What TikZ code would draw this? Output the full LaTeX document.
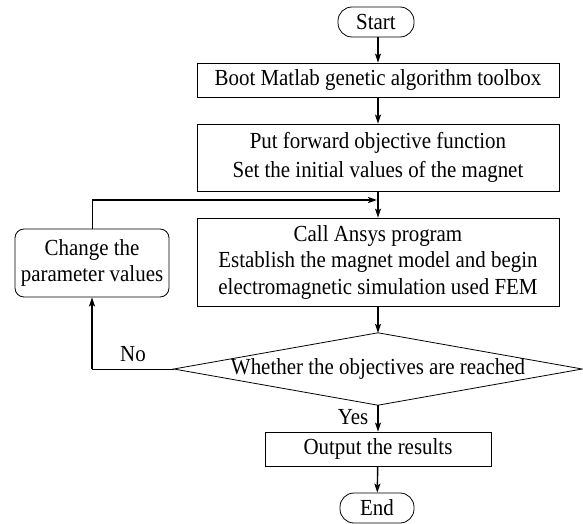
\documentclass[tikz,border=0pt]{standalone}
\usepackage{fontspec}
\setmainfont{Liberation Serif}[FakeStretch=0.91]
\usetikzlibrary{arrows.meta}
\begin{document}
\begin{tikzpicture}[x=1pt,y=-1pt,
  every node/.style={font=\fontsize{23}{26.5}\selectfont, inner sep=0pt, align=center},
  boxx/.style={draw, line width=0.8pt, rectangle},
  term/.style={draw, line width=0.8pt, rectangle, rounded corners=14pt},
  chg/.style={draw, line width=0.8pt, rectangle, rounded corners=9pt},
  arr/.style={line width=1.4pt, -{Stealth[length=9pt,width=6pt,inset=2pt]}},
  thin/.style={line width=0.8pt},
  thickline/.style={line width=2pt}
]
\useasboundingbox (0,0) rectangle (583,524);
\node[term, minimum width=76pt, minimum height=30pt] (start) at (376,22) {Start};
\node[boxx, minimum width=362pt, minimum height=34pt] (b1) at (378,80) {Boot Matlab genetic algorithm toolbox};
\node[boxx, minimum width=362pt, minimum height=67pt] (b2) at (378,157.5) {Put forward objective function\\[2.5pt] Set the initial values of the magnet};
\node[boxx, minimum width=362pt, minimum height=88pt] (b3) at (378,262) {Call Ansys program\\ Establish the magnet model and begin\\ electromagnetic simulation used FEM};
\node[minimum width=408pt, minimum height=72pt] (dia) at (378,369) {Whether the objectives are reached};
\draw[thin] (dia.west) -- (dia.north) -- (dia.east) -- (dia.south) -- cycle;
\node[chg, minimum width=154pt, minimum height=68pt] (chg) at (92,263) {Change the\\ parameter values};
\node[boxx, minimum width=226pt, minimum height=34pt] (out) at (378,449) {Output the results};
\node[term, minimum width=74pt, minimum height=30pt] (end) at (377,508) {End};
\node (no) at (133,354) {No};
\node (yes) at (353,417) {Yes};
\coordinate (j) at (378,200);
\coordinate (jl) at (92,200);
\coordinate (dl) at (92,369);

\draw[arr] (start.south -| b1.north) -- (b1.north);
\draw[arr] (b1) -- (b2);
\draw[line width=1.4pt] (b2.south) -- (j);
\draw[arr] (j) -- (b3.north);
\draw[arr] (b3) -- (dia.north);
\draw[arr] (dia.south) -- (out.north);
\draw[arr] (out) -- (end);
\draw[thin] (dia.west) -- (dl);
\draw[thickline, -{Stealth[length=9pt,width=6pt,inset=2pt]}] (dl) -- (chg.south);
\draw[thin] (chg.north) -- (jl);
\draw[thickline, -{Stealth[length=9pt,width=6pt,inset=2pt]}] (jl) -- ([xshift=-1pt]j);
\end{tikzpicture}
\end{document}
